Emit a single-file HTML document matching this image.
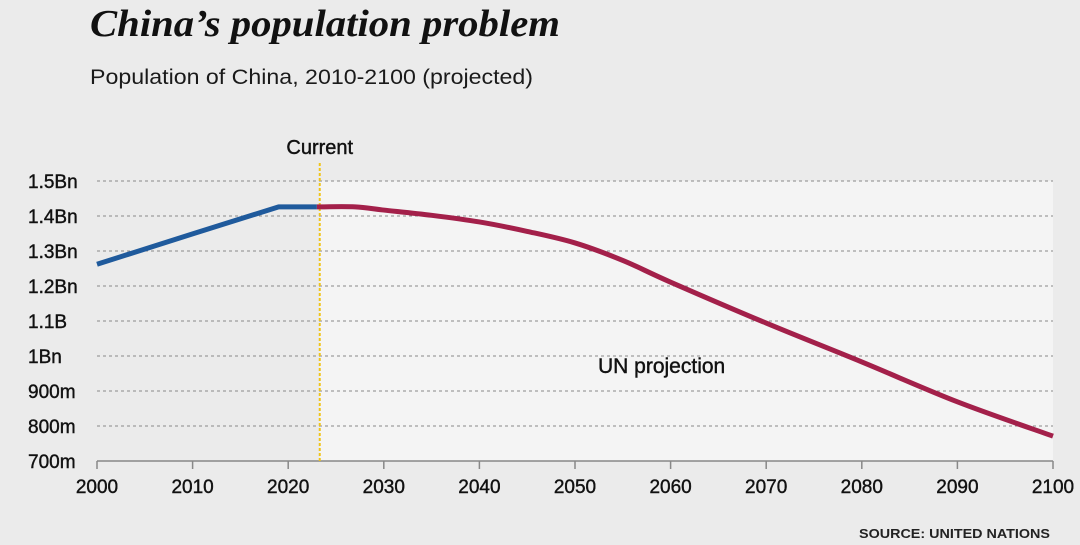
<!DOCTYPE html>
<html><head><meta charset="utf-8"><style>
body{margin:0;width:1080px;height:540px;background:#ebebeb;overflow:hidden;font-family:"Liberation Sans",sans-serif}
</style></head><body>
<svg width="1080" height="540">
<text x="90" y="36" font-family="Liberation Serif,serif" font-size="38" font-weight="bold" font-style="italic" fill="#111" textLength="470" lengthAdjust="spacingAndGlyphs">China’s population problem</text>
<text x="90" y="84" font-size="21" fill="#1a1a1a" textLength="443" lengthAdjust="spacingAndGlyphs">Population of China, 2010-2100 (projected)</text>
<g id="plot"></g>
<text x="1050" y="538" text-anchor="end" font-size="13" font-weight="bold" fill="#222" textLength="191" lengthAdjust="spacingAndGlyphs">SOURCE: UNITED NATIONS</text>
</svg>
<script>
const histYears=[2000,2010,2019,2023];
const histVals=[1.262,1.349,1.426,1.426];
const projYears=[2023,2027,2030,2035,2040,2045,2050,2055,2060,2070,2080,2090,2100];
const projVals=[1.426,1.426,1.417,1.402,1.383,1.356,1.323,1.273,1.211,1.094,0.983,0.869,0.771];
const yTicks=[0.7,0.8,0.9,1.0,1.1,1.2,1.3,1.4,1.5];
const yLabels=["700m","800m","900m","1Bn","1.1B","1.2Bn","1.3Bn","1.4Bn","1.5Bn"];
const xTicks=[2000,2010,2020,2030,2040,2050,2060,2070,2080,2090,2100];
const currentYear=2023.3;
const NS="http://www.w3.org/2000/svg";
const g=document.getElementById('plot');
const X=y=>97+(y-2000)*9.56;
const Y=v=>461-(v-0.7)*350;
function mk(t,a,p){const e=document.createElementNS(NS,t);for(const k in a)e.setAttribute(k,a[k]);(p||g).appendChild(e);return e;}
let r=mk('rect',{x:X(currentYear),y:Y(1.5),width:X(2100)-X(currentYear),height:Y(0.7)-Y(1.5),fill:'#f4f4f4'});


yTicks.forEach((v,i)=>{
 if(i>0){let l=mk('line',{x1:X(2000),x2:X(2100),y1:Y(v),y2:Y(v),stroke:'#888','stroke-dasharray':'3,3','stroke-width':1});
 
 }
 let t=mk('text',{x:28,y:Y(v)+7,'font-size':19,fill:'#111','stroke':'#111','stroke-width':0.4});t.textContent=yLabels[i];
 
 
});
let ax=mk('line',{x1:X(2000),x2:X(2100),y1:461,y2:461,stroke:'#888','stroke-width':1.5});


xTicks.forEach(y=>{
 let l=mk('line',{x1:X(y),x2:X(y),y1:461,y2:469,stroke:'#888','stroke-width':1.5});
 
 
 let t=mk('text',{x:X(y),y:493,'font-size':19,'text-anchor':'middle',fill:'#111','stroke':'#111','stroke-width':0.4});t.textContent=y;
 
 
});
let cl=mk('line',{x1:X(currentYear),x2:X(currentYear),y1:163,y2:461,stroke:'#f0c419','stroke-width':2,'stroke-dasharray':'3,2'});


let ct=mk('text',{x:X(currentYear),y:154,'font-size':20,'text-anchor':'middle',fill:'#111','stroke':'#111','stroke-width':0.4});ct.textContent='Current';


function smooth(ys,vs){
 const p=ys.map((y,i)=>[X(y),Y(vs[i])]);
 let d='M'+p[0][0]+','+p[0][1];
 for(let i=0;i<p.length-1;i++){
  const p0=p[Math.max(i-1,0)],p1=p[i],p2=p[i+1],p3=p[Math.min(i+2,p.length-1)];
  const c1=[p1[0]+(p2[0]-p0[0])/6,p1[1]+(p2[1]-p0[1])/6];
  const c2=[p2[0]-(p3[0]-p1[0])/6,p2[1]-(p3[1]-p1[1])/6];
  d+=' C'+c1+' '+c2+' '+p2;
 }
 return d;
}
const pts=(ys,vs)=>ys.map((y,i)=>X(y)+','+Y(vs[i])).join(' ');
let hl=mk('polyline',{points:pts(histYears,histVals),fill:'none',stroke:'#1f5a9c','stroke-width':5,'stroke-linejoin':'round'});


let pl=mk('path',{d:smooth(projYears,projVals),fill:'none',stroke:'#a3204a','stroke-width':5,'stroke-linejoin':'round'});


let pt=mk('text',{x:598,y:373,'font-size':21,fill:'#111','stroke':'#111','stroke-width':0.4});pt.textContent='UN projection';


</script>
</body></html>
